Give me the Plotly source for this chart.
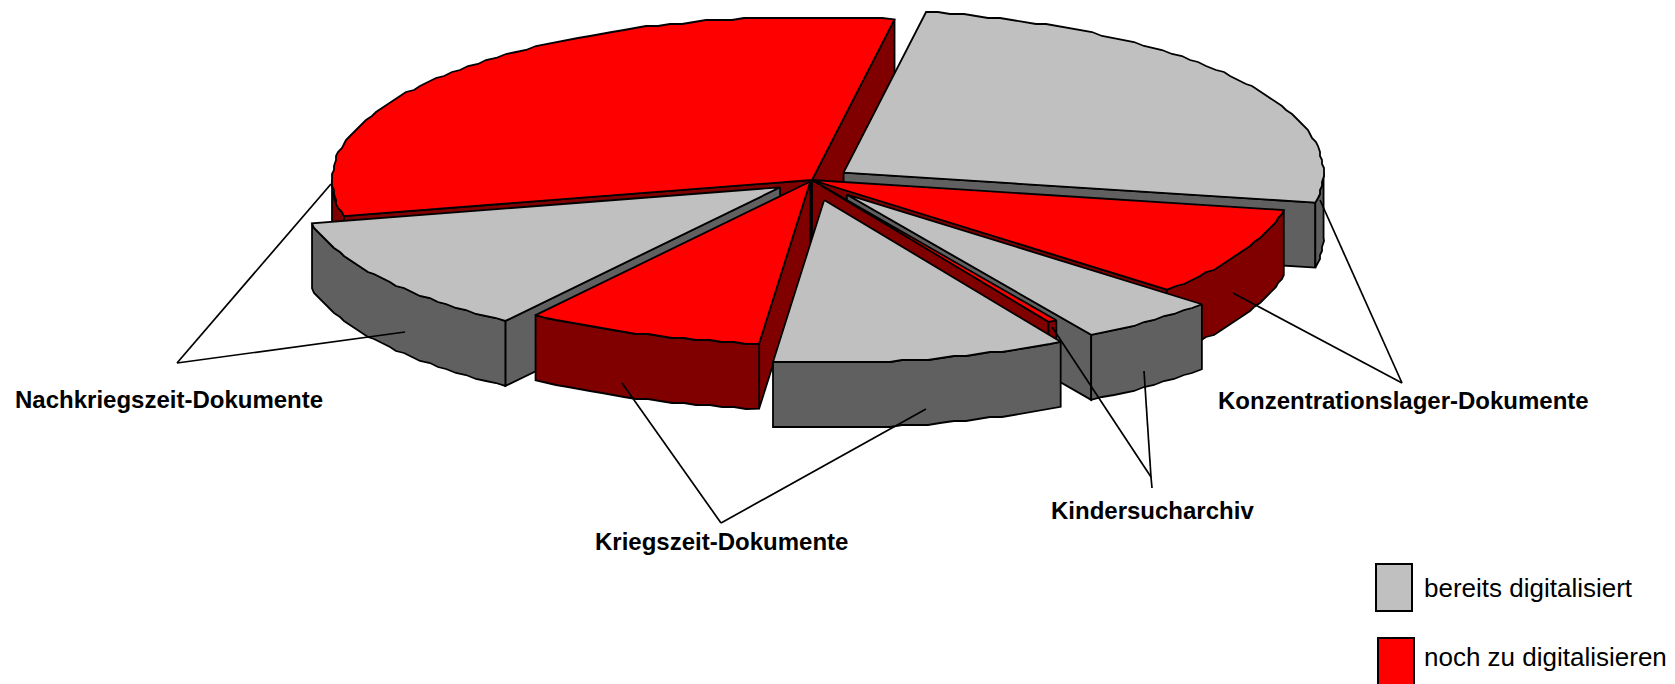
import numpy as np
import plotly.graph_objects as go

# ---- data -----------------------------------------------------------------
categories = ["Konzentrationslager-Dokumente", "Kindersucharchiv",
              "Kriegszeit-Dokumente", "Nachkriegszeit-Dokumente"]
status = ["bereits digitalisiert", "noch zu digitalisieren"]
bereits_digitalisiert = [25.2, 4.75, 9.9, 11.75]
noch_zu_digitalisieren = [8.8, 0.3, 8.0, 31.3]
explode_bereits = [0.08, 0.115, 0.125, 0.08]
explode_noch = [0.0, 0.0, 0.01, 0.0]

# ---- styling / projection ---------------------------------------------------
W, H = 1675, 684
CX, CY, A, B, DEPTH = 812, 180, 480, 163, 65
START = 9.9
GRID = 2.0
TOP = {"b": "#C0C0C0", "n": "#FF0000"}
SIDE = {"b": "#606060", "n": "#800000"}
LW = 1.8

slices = []
ang = START
for i in range(len(categories)):
    for kind, vals, exp in (("b", bereits_digitalisiert, explode_bereits),
                            ("n", noch_zu_digitalisieren, explode_noch)):
        span = vals[i] * 3.6
        slices.append(dict(kind=kind, cat=i, t0=ang, t1=ang + span, e=exp[i]))
        ang += span


def pt(apex, t):
    r = np.radians(t)
    return apex[0] + A * np.sin(r), apex[1] - B * np.cos(r)


def arc(apex, t0, t1):
    n = max(2, int(abs(t1 - t0) / 1.5) + 1)
    ts = np.linspace(t0, t1, n)
    xs, ys = pt(apex, ts)
    xs = np.round(xs / GRID) * GRID
    ys = np.round(ys / GRID) * GRID
    xs[0], ys[0] = pt(apex, t0)
    xs[-1], ys[-1] = pt(apex, t1)
    return list(xs), list(ys)


fig = go.Figure()


def poly(xs, ys, color, name):
    fig.add_trace(go.Scatter(
        x=list(xs) + [xs[0]], y=list(ys) + [ys[0]], mode="lines", fill="toself",
        fillcolor=color, line=dict(color="#000000", width=LW),
        name=name, hoverinfo="skip", showlegend=False))


def draw_slice(s):
    mid = np.radians((s["t0"] + s["t1"]) / 2)
    apex = (CX + s["e"] * A * np.sin(mid), CY - s["e"] * B * np.cos(mid))
    name = categories[s["cat"]]
    top, side = TOP[s["kind"]], SIDE[s["kind"]]
    # visible cut walls
    for t, vis in ((s["t0"], np.sin(np.radians(s["t0"])) < 0),
                   (s["t1"], np.sin(np.radians(s["t1"])) > 0)):
        if vis:
            ex, ey = pt(apex, t)
            poly([apex[0], ex, ex, apex[0]],
                 [apex[1], ey, ey + DEPTH, apex[1] + DEPTH], side, name)
    # visible outer wall: only the front half of the rim (90..270 deg)
    lo, hi = max(s["t0"], 90), min(s["t1"], 270)
    if hi > lo:
        xs, ys = arc(apex, lo, hi)
        poly(xs + xs[::-1], ys + [y + DEPTH for y in ys[::-1]], side, name)
    xs, ys = arc(apex, s["t0"], s["t1"])
    poly([apex[0]] + xs, [apex[1]] + ys, top, name)


# painter's order, back to front (category index, kind)
order = [(3, "n"), (0, "b"), (0, "n"), (1, "b"), (1, "n"), (3, "b"), (2, "n"), (2, "b")]
for c, k in order:
    draw_slice(next(s for s in slices if s["cat"] == c and s["kind"] == k))

# ---- leader lines ------------------------------------------------------------
leaders = [
    [(331, 184), (177, 363), (405, 332)],
    [(622, 383), (721, 523), (926, 409)],
    [(1052, 327), (1151, 477), (1144, 371)],
    [(1151, 477), (1152, 488)],
    [(1320, 200), (1402, 383), (1233, 293)],
]
shapes = []
for l in leaders:
    for p, q in zip(l[:-1], l[1:]):
        shapes.append(dict(type="line", xref="x", yref="y", x0=p[0], y0=p[1], x1=q[0], y1=q[1],
                           line=dict(color="#000000", width=1.7)))
shapes.append(dict(type="rect", xref="x", yref="y", x0=1376, x1=1412, y0=564, y1=611,
                   fillcolor=TOP["b"], line=dict(color="#000000", width=2)))
shapes.append(dict(type="rect", xref="x", yref="y", x0=1378, x1=1414, y0=638, y1=690,
                   fillcolor=TOP["n"], line=dict(color="#000000", width=2)))

label_pos = [(1403, 400), (1152, 510), (721, 541), (169, 399)]
ann = []
for txt, (x, y) in zip(categories, label_pos):
    ann.append(dict(x=x, y=y, xref="x", yref="y", text="<b>%s</b>" % txt, showarrow=False,
                    font=dict(family="Liberation Sans", size=24, color="#000000"),
                    xanchor="center", yanchor="middle"))
for txt, y in zip(status, (588, 657)):
    ann.append(dict(x=1422, y=y, xref="x", yref="y", text=txt, showarrow=False,
                    font=dict(family="Liberation Sans", size=26, color="#000000"),
                    xanchor="left", yanchor="middle"))

fig.update_layout(
    width=W, height=H, margin=dict(l=0, r=0, t=0, b=0),
    paper_bgcolor="white", plot_bgcolor="white", showlegend=False,
    xaxis=dict(range=[0, W], visible=False, fixedrange=True),
    yaxis=dict(range=[H, 0], visible=False, fixedrange=True),
    shapes=shapes, annotations=ann,
)
fig.write_html("out.html", config={"displayModeBar": False},
               post_script="document.body.style.margin='0';document.body.style.overflow='hidden';")
